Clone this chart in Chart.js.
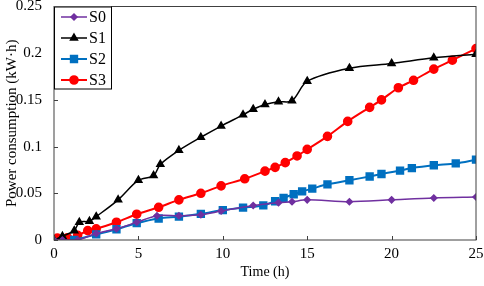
<!DOCTYPE html>
<html>
<head>
<meta charset="utf-8">
<script src="https://cdn.jsdelivr.net/npm/chart.js@4.4.0/dist/chart.umd.min.js"></script>
<style>
  html, body { margin: 0; padding: 0; background: #fff; }
  #wrap { width: 484px; height: 286px; position: relative; }
</style>
</head>
<body>
<div id="wrap"><canvas id="graph1"></canvas></div>
<script>
// series (time in h, power in kW.h)
var s0Time  = [0, 0.5, 1.4, 2.5, 3.7, 4.9, 6.1, 7.4, 8.7, 9.9, 11.8, 13.3, 14.1, 15.0, 17.5, 20.0, 22.5, 25.0];
var s0Power = [0, 0, 0, 0.007, 0.012, 0.019, 0.026, 0.026, 0.027, 0.031, 0.037, 0.040, 0.041, 0.043, 0.041, 0.043, 0.045, 0.046];

var s1Time  = [0, 0.5, 1.2, 1.5, 2.1, 2.5, 3.8, 5.0, 5.9, 6.3, 7.4, 8.7, 9.9, 11.2, 11.8, 12.5, 13.3, 14.1, 15.0, 17.5, 20.0, 22.5, 25.0];
var s1Power = [0, 0.004, 0.010, 0.019, 0.020, 0.025, 0.043, 0.064, 0.069, 0.081, 0.096, 0.110, 0.122, 0.134, 0.140, 0.145, 0.148, 0.149, 0.170, 0.184, 0.189, 0.195, 0.199];

var s2Time  = [1.2, 2.5, 3.7, 4.9, 6.2, 7.4, 8.7, 10.0, 11.2, 12.4, 13.1, 13.6, 14.2, 14.7, 15.3, 16.2, 17.5, 18.7, 19.4, 20.5, 21.2, 22.5, 23.8, 25.0];
var s2Power = [0, 0.006, 0.0115, 0.018, 0.023, 0.025, 0.028, 0.032, 0.0347, 0.037, 0.0415, 0.045, 0.049, 0.052, 0.055, 0.0596, 0.064, 0.068, 0.0707, 0.0743, 0.077, 0.080, 0.082, 0.086];

var s3Time  = [0.2, 0.8, 1.4, 2.0, 2.5, 3.7, 4.9, 6.2, 7.4, 8.7, 9.9, 11.3, 12.5, 13.1, 13.7, 14.4, 15.0, 16.2, 17.4, 18.7, 19.4, 20.4, 21.3, 22.5, 23.6, 25.0];
var s3Power = [0.002, 0.0024, 0.005, 0.010, 0.012, 0.019, 0.0276, 0.035, 0.043, 0.050, 0.058, 0.0655, 0.0737, 0.0778, 0.0828, 0.090, 0.097, 0.111, 0.127, 0.142, 0.150, 0.163, 0.171, 0.183, 0.1925, 0.205];

var seriesNames = ['S0', 'S1', 'S2', 'S3'];
var yTickLabels = ['0', '0.05', '0.1', '0.15', '0.2', '0.25'];
var xTickLabels = ['0', '5', '10', '15', '20', '25'];

function pts(xs, ys) {
    return xs.map(function (x, i) { return { x: x, y: ys[i] }; });
}

var fontFamily = "'Liberation Serif', 'Times New Roman', serif";

var data = {
    datasets: [
    {
        label: seriesNames[0],
        data: pts(s0Time, s0Power),
        borderColor: '#7030A0',
        backgroundColor: '#7030A0',
        pointStyle: 'rectRot',
        pointRadius: 3,
        borderWidth: 1.5
    },
    {
        label: seriesNames[1],
        data: pts(s1Time, s1Power),
        borderColor: '#000000',
        backgroundColor: '#000000',
        pointStyle: 'triangle',
        pointRadius: 4,
        borderWidth: 1.5
    },
    {
        label: seriesNames[2],
        data: pts(s2Time, s2Power),
        borderColor: '#0070C0',
        backgroundColor: '#0070C0',
        pointStyle: 'rect',
        pointRadius: 4.5,
        borderWidth: 2
    },
    {
        label: seriesNames[3],
        data: pts(s3Time, s3Power),
        borderColor: '#FF0000',
        backgroundColor: '#FF0000',
        pointStyle: 'circle',
        pointRadius: 3.8,
        borderWidth: 2
    }
    ]
};

// frame round the plot area + inward tick marks
var framePlugin = {
    id: 'frame',
    afterDraw: function (chart) {
        var c = chart.ctx, a = chart.chartArea;
        var xs = chart.scales.x, ys = chart.scales.y;
        c.save();
        c.strokeStyle = '#404040';
        c.lineWidth = 1;
        c.strokeRect(a.left, a.top, a.right - a.left, a.bottom - a.top);
        c.beginPath();
        xs.ticks.forEach(function (t) {
            var px = Math.round(xs.getPixelForValue(t.value)) + 0.5;
            c.moveTo(px, a.bottom); c.lineTo(px, a.bottom - 4);
        });
        ys.ticks.forEach(function (t) {
            var py = Math.round(ys.getPixelForValue(t.value)) + 0.5;
            c.moveTo(a.left, py); c.lineTo(a.left + 4, py);
        });
        c.stroke();
        c.restore();
    }
};

// legend box in the top-left corner of the plot
var legendPlugin = {
    id: 'boxLegend',
    afterDraw: function (chart) {
        var c = chart.ctx, a = chart.chartArea;
        var bx = a.left, by = a.top, bw = 57, bh = 82;
        c.save();
        c.fillStyle = '#fff';
        c.fillRect(bx, by, bw, bh);
        c.strokeStyle = '#000';
        c.lineWidth = 1;
        c.strokeRect(bx + 0.5, by + 0.5, bw, bh);
        c.font = '16px ' + fontFamily;
        c.textBaseline = 'middle';
        chart.data.datasets.forEach(function (ds, i) {
            var cy = by + 10.5 + i * 21;
            c.strokeStyle = ds.borderColor;
            c.lineWidth = ds.borderWidth;
            c.beginPath();
            c.moveTo(bx + 7, cy); c.lineTo(bx + 33, cy);
            c.stroke();
            Chart.helpers.drawPoint(c, {
                pointStyle: ds.pointStyle, radius: ds.pointRadius, rotation: 0, borderWidth: 1
            }, bx + 20, cy);
            c.fillStyle = ds.borderColor;
            c.fill();
            c.fillStyle = '#000';
            c.fillText(ds.label, bx + 35, cy + 1);
        });
        c.restore();
    }
};

var config = {
    type: 'line',
    data: data,
    plugins: [framePlugin, legendPlugin],
    options: {
        responsive: true,
        maintainAspectRatio: false,
        animation: false,
        layout: { padding: { top: 6, right: 8, left: 0, bottom: 0 } },
        elements: {
            line: { tension: 0.3, cubicInterpolationMode: 'default' },
            point: { borderWidth: 1 }
        },
        plugins: {
            legend: { display: false },
            tooltip: { enabled: false }
        },
        scales: {
            x: {
                type: 'linear',
                min: 0,
                max: 25,
                afterFit: function (s) { s.height = 46; s.paddingLeft = 0; s.paddingRight = 0; },
                grid: { display: false, drawTicks: false },
                border: { display: false },
                ticks: {
                    stepSize: 5,
                    padding: 5,
                    color: '#000',
                    font: { family: fontFamily, size: 15 },
                    callback: function (v) { return xTickLabels[v / 5]; }
                },
                title: {
                    display: true,
                    text: 'Time (h)',
                    color: '#000',
                    padding: { top: 0, bottom: 5 },
                    font: { family: fontFamily, size: 14 }
                }
            },
            y: {
                min: 0,
                max: 0.25,
                afterFit: function (s) { s.width = 54; s.paddingTop = 0; s.paddingBottom = 0; },
                grid: { display: false, drawTicks: false },
                border: { display: false },
                ticks: {
                    stepSize: 0.05,
                    padding: 12,
                    color: '#000',
                    font: { family: fontFamily, size: 15 },
                    callback: function (v) { return yTickLabels[Math.round(v / 0.05)]; }
                },
                title: {
                    display: true,
                    text: 'Power consumption (kW·h)',
                    color: '#000',
                    padding: { top: 3, bottom: 0 },
                    font: { family: fontFamily, size: 15 }
                }
            }
        }
    }
};

var ctx = document.getElementById('graph1').getContext('2d');
var graph1 = new Chart(ctx, config);
</script>
</body>
</html>
